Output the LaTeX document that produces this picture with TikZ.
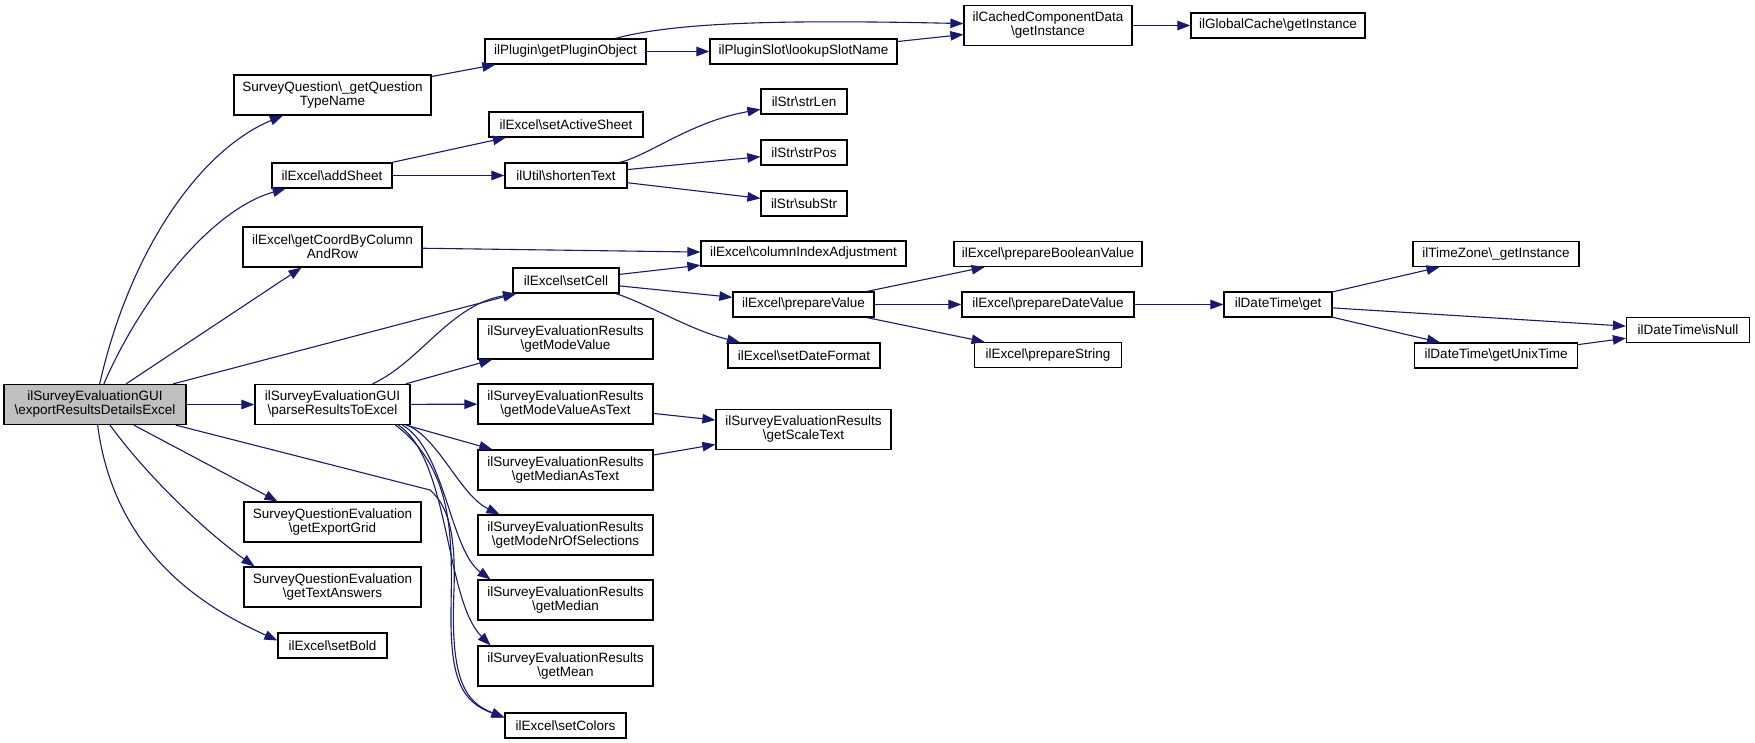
\documentclass[tikz,border=0pt]{standalone}
\usepackage{fontspec}
\setmainfont{Liberation Sans}
\usetikzlibrary{arrows.meta}
\definecolor{edgecol}{HTML}{191970}
\definecolor{rootfill}{HTML}{BFBFBF}
\newcommand{\bs}{\textbackslash}
\begin{document}
\begin{tikzpicture}[x=1pt,y=-1pt,
  box/.style={draw=black,line width=1.2pt,fill=white,inner sep=0pt,align=center,font=\fontsize{13.5}{14}\selectfont},
  h1/.style={minimum height=25pt},
  h2/.style={minimum height=40pt},
  edge/.style={draw=edgecol,line width=1.1pt,-{Triangle[length=13pt,width=9.5pt]}}]
\useasboundingbox (0,0) rectangle (1755,743);
\fill[white] (0,0) rectangle (1755,743);

% column 0
\node[box,h2,fill=rootfill,minimum width=182pt] (root) at (95,404.5) {ilSurveyEvaluationGUI\\\bs exportResultsDetailsExcel};
% column 1
\node[box,h2,minimum width=197pt] (sqtype) at (332.5,95) {SurveyQuestion\bs\_getQuestion\\TypeName};
\node[box,h1,minimum width=120pt] (addsheet) at (332,175.5) {ilExcel\bs addSheet};
\node[box,h2,minimum width=179pt] (coord) at (332.5,247) {ilExcel\bs getCoordByColumn\\AndRow};
\node[box,h2,minimum width=155pt] (parse) at (332.5,404.5) {ilSurveyEvaluationGUI\\\bs parseResultsToExcel};
\node[box,h2,minimum width=177pt] (exportgrid) at (332.5,522) {SurveyQuestionEvaluation\\\bs getExportGrid};
\node[box,h2,minimum width=177pt] (textans) at (332.5,587) {SurveyQuestionEvaluation\\\bs getTextAnswers};
\node[box,h1,minimum width=109pt] (setbold) at (332.5,645.5) {ilExcel\bs setBold};
% column 2
\node[box,h1,minimum width=161pt] (plugobj) at (565.5,51.5) {ilPlugin\bs getPluginObject};
\node[box,h1,minimum width=154pt] (activesheet) at (566,124.5) {ilExcel\bs setActiveSheet};
\node[box,h1,minimum width=122pt] (shorten) at (566,175.5) {ilUtil\bs shortenText};
\node[box,h1,minimum width=106pt] (setcell) at (566,280.5) {ilExcel\bs setCell};
\node[box,h2,minimum width=175pt] (modeval) at (565.5,339) {ilSurveyEvaluationResults\\\bs getModeValue};
\node[box,h2,minimum width=175pt] (modevaltext) at (565.5,404) {ilSurveyEvaluationResults\\\bs getModeValueAsText};
\node[box,h2,minimum width=175pt] (medtext) at (565.5,470) {ilSurveyEvaluationResults\\\bs getMedianAsText};
\node[box,h2,minimum width=175pt] (modenr) at (565.5,535) {ilSurveyEvaluationResults\\\bs getModeNrOfSelections};
\node[box,h2,minimum width=175pt] (median) at (565.5,600) {ilSurveyEvaluationResults\\\bs getMedian};
\node[box,h2,minimum width=175pt] (mean) at (565.5,666) {ilSurveyEvaluationResults\\\bs getMean};
\node[box,h1,minimum width=121pt] (setcolors) at (565.5,725.5) {ilExcel\bs setColors};
% column 3
\node[box,h1,minimum width=187pt] (slot) at (803.5,51.5) {ilPluginSlot\bs lookupSlotName};
\node[box,h1,minimum width=86pt] (strlen) at (804,101.5) {ilStr\bs strLen};
\node[box,h1,minimum width=86pt] (strpos) at (804,152.5) {ilStr\bs strPos};
\node[box,h1,minimum width=86pt] (substr) at (804,203.5) {ilStr\bs subStr};
\node[box,h1,minimum width=205pt] (colidx) at (803.5,253.5) {ilExcel\bs columnIndexAdjustment};
\node[box,h1,minimum width=141pt] (prepval) at (803.5,304.5) {ilExcel\bs prepareValue};
\node[box,h1,minimum width=152pt] (setdate) at (804,355.5) {ilExcel\bs setDateFormat};
\node[box,h2,minimum width=175pt] (scaletext) at (803.5,429.5) {ilSurveyEvaluationResults\\\bs getScaleText};
% column 4
\node[box,h2,minimum width=168pt] (cached) at (1048,25.5) {ilCachedComponentData\\\bs getInstance};
\node[box,h1,minimum width=188pt] (prepbool) at (1048,254) {ilExcel\bs prepareBooleanValue};
\node[box,h1,minimum width=172pt] (prepdate) at (1048,304.5) {ilExcel\bs prepareDateValue};
\node[box,h1,minimum width=147pt] (prepstr) at (1048,355) {ilExcel\bs prepareString};
% column 5
\node[box,h1,minimum width=174pt] (gcache) at (1278,25.5) {ilGlobalCache\bs getInstance};
\node[box,h1,minimum width=108pt] (dtget) at (1278,304.5) {ilDateTime\bs get};
% column 6
\node[box,h1,minimum width=166pt] (tz) at (1496,254) {ilTimeZone\bs\_getInstance};
\node[box,h1,minimum width=163pt] (unix) at (1496,355.5) {ilDateTime\bs getUnixTime};
% column 7
\node[box,h1,minimum width=123pt] (isnull) at (1688,330) {ilDateTime\bs isNull};

% edges from root
\draw[edge] (root) .. controls (130,250) and (200,150) .. (sqtype);
\draw[edge] (root) .. controls (140,300) and (210,210) .. (addsheet);
\draw[edge] (root) -- (coord);
\draw[edge] (root) -- (setcell);
\draw[edge] (root) -- (parse);
\draw[edge] (root) -- ([xshift=-55pt]exportgrid.north);
\draw[edge] (root) .. controls (150,480) and (210,535) .. ([xshift=-78pt]textans.north);
\draw[edge] (root) .. controls (115,560) and (215,612) .. ([yshift=5pt]setbold.west);
\draw[edge] (root) -- (430,490) .. controls (447,505) and (456,530) .. (454,590) .. controls (450,680) and (465,702) .. ([yshift=8pt]setcolors.west);
% upper chain
\draw[edge] (sqtype) -- (plugobj);
\draw[edge] (plugobj) .. controls (670,24) and (760,19) .. (cached);
\draw[edge] (plugobj) -- (slot);
\draw[edge] (slot) -- (cached);
\draw[edge] (cached) -- (gcache);
\draw[edge] (addsheet) -- (activesheet);
\draw[edge] (addsheet) -- (shorten);
\draw[edge] (shorten) .. controls (650,155) and (690,122) .. (strlen);
\draw[edge] (shorten) -- (strpos);
\draw[edge] (shorten) -- (substr);
\draw[edge] (coord) -- (colidx);
\draw[edge] (setcell) -- (colidx);
\draw[edge] (setcell) -- (prepval);
\draw[edge] ([xshift=50pt]setcell.south) .. controls (650,305) and (690,330) .. ([xshift=-64pt]setdate.north);
\draw[edge] (prepval) -- (prepbool);
\draw[edge] (prepval) -- (prepdate);
\draw[edge] (prepval) -- (prepstr);
\draw[edge] (prepdate) -- (dtget);
\draw[edge] (dtget) -- (tz);
\draw[edge] (dtget) -- (isnull);
\draw[edge] (dtget) -- (unix);
\draw[edge] (unix) -- (isnull);
% from parse
\draw[edge] ([xshift=40pt]parse.north) .. controls (420,362) and (450,305) .. ([xshift=-50pt]setcell.south);
\draw[edge] (parse) -- (modeval);
\draw[edge] (parse) -- (modevaltext);
\draw[edge] (parse) -- (medtext);
\draw[edge] ([xshift=75pt]parse.south) .. controls (440,440) and (460,495) .. ([xshift=-66pt]modenr.north);
\draw[edge] ([xshift=70pt]parse.south) .. controls (445,450) and (450,550) .. ([xshift=-75pt]median.north);
\draw[edge] ([xshift=66pt]parse.south) .. controls (450,460) and (445,600) .. ([xshift=-75pt]mean.north);
\draw[edge] ([xshift=63pt]parse.south) .. controls (455,470) and (452,540) .. (451,610) .. controls (450,680) and (462,702) .. ([yshift=8pt]setcolors.west);
\draw[edge] (modevaltext) -- (scaletext);
\draw[edge] (medtext) -- (scaletext);
\end{tikzpicture}
\end{document}
